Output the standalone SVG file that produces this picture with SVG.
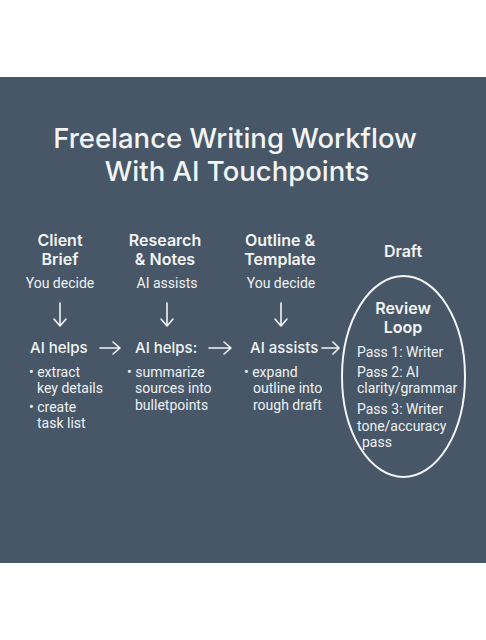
<svg xmlns="http://www.w3.org/2000/svg" width="486" height="640" viewBox="0 0 486 640">
<defs>
<style>
.h{font-family:Inter,"Open Sans","Liberation Sans",sans-serif;font-weight:600;fill:#f2f4f5;text-anchor:middle}
.t{font-size:27.5px;font-weight:500}
.n{font-size:16px}
.s{font-family:Roboto,"Liberation Sans",sans-serif;font-size:14px;fill:#eef1f3}
.m{text-anchor:middle}
.a{font-family:Inter,"Liberation Sans",sans-serif;font-size:15px;fill:#f2f4f5;font-weight:500}
.c{stroke:#f2f4f5;stroke-width:1.6;fill:none;stroke-linecap:round;stroke-linejoin:round}
</style>
</defs>
<rect x="0" y="0" width="486" height="640" fill="#ffffff"/>
<rect x="0" y="77" width="486" height="486" fill="#475767"/>
<g id="title">
<text class="h t" x="235" y="148">Freelance Writing Workflow</text>
<text class="h t" x="237" y="181">With AI Touchpoints</text>
</g>
<g id="client-brief">
<text class="h n" x="60" y="246">Client</text>
<text class="h n" x="60" y="265">Brief</text>
<text class="s m" x="60" y="288">You decide</text>
<text class="a" x="30" y="353">AI helps</text>
<text class="s" x="29" y="377">• extract</text>
<text class="s" x="37" y="393">key details</text>
<text class="s" x="29" y="412">• create</text>
<text class="s" x="37" y="428">task list</text>
</g>
<g id="research-notes">
<text class="h n" x="165" y="246">Research</text>
<text class="h n" x="165" y="265">&amp; Notes</text>
<text class="s m" x="167" y="288">AI assists</text>
<text class="a" x="135" y="353">AI helps:</text>
<text class="s" x="127" y="377">• summarize</text>
<text class="s" x="135" y="393">sources into</text>
<text class="s" x="135" y="410">bulletpoints</text>
</g>
<g id="outline-template">
<text class="h n" x="280" y="246">Outline &amp;</text>
<text class="h n" x="280" y="265">Template</text>
<text class="s m" x="281" y="288">You decide</text>
<text class="a" x="250" y="353">AI assists</text>
<text class="s" x="244" y="377">• expand</text>
<text class="s" x="253" y="393">outline into</text>
<text class="s" x="253" y="410">rough draft</text>
</g>
<g id="draft">
<text class="h n" x="403" y="257">Draft</text>
</g>
<g id="review-loop">
<ellipse cx="403.5" cy="376.5" rx="61.5" ry="100.5" fill="none" stroke="#f2f4f5" stroke-width="2"/>
<text class="h n" x="403" y="314">Review</text>
<text class="h n" x="403" y="333">Loop</text>
<text class="s" x="357" y="357">Pass 1: Writer</text>
<text class="s" x="357" y="377">Pass 2: AI</text>
<text class="s" x="357" y="393">clarity/grammar</text>
<text class="s" x="357" y="414">Pass 3: Writer</text>
<text class="s" x="357" y="431">tone/accuracy</text>
<text class="s" x="362" y="447">pass</text>
</g>
<g id="connectors" class="c">
<path d="M60 303V326M54 319L60 326L66 319"/>
<path d="M167 303V326M161 319L167 326L173 319"/>
<path d="M281 303V326M275 319L281 326L287 319"/>
<path d="M100 348H120M113 342L120 348L113 354"/>
<path d="M209 348H231M224 342L231 348L224 354"/>
<path d="M322 348H339M333 342L339 348L333 354"/>
</g>
</svg>
